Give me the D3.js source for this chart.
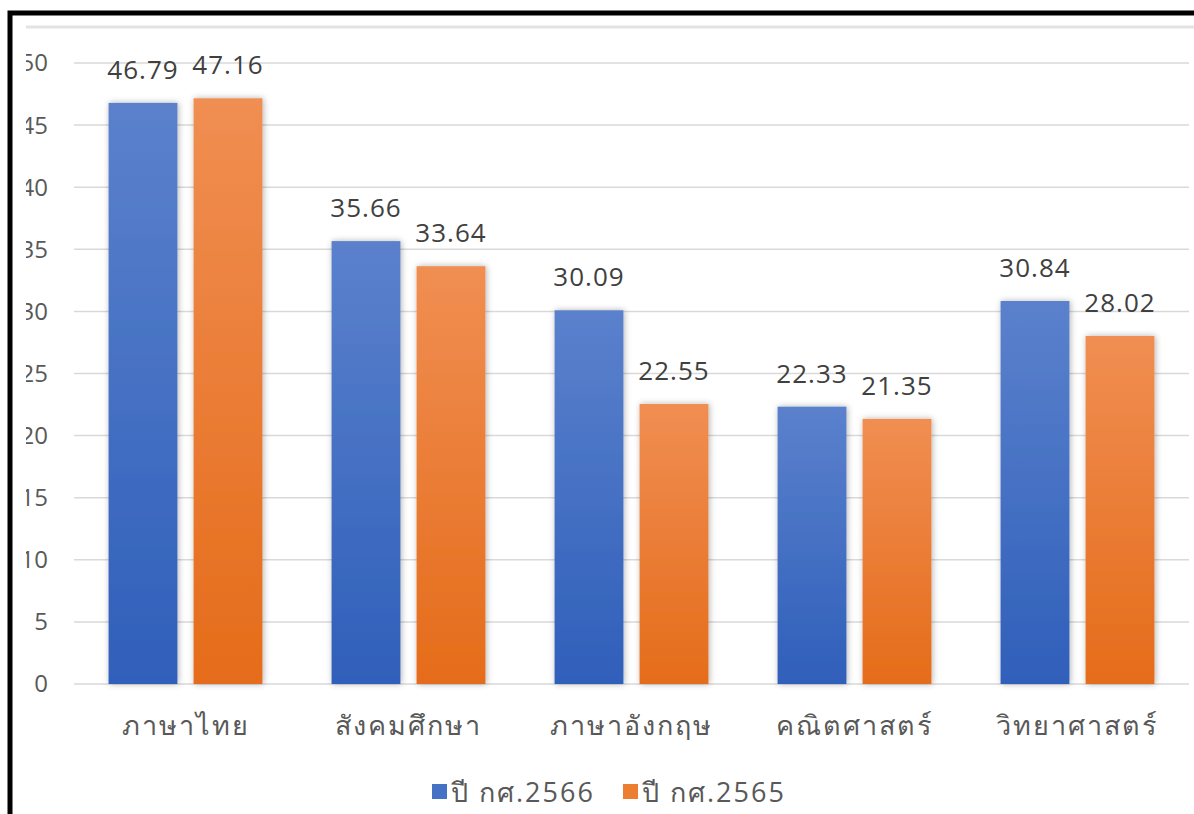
<!DOCTYPE html>
<html>
<head>
<meta charset="utf-8">
<script src="https://cdn.jsdelivr.net/npm/d3@7"></script>
<style>
  html, body { margin: 0; padding: 0; background: #fff; overflow: hidden; }
  svg { display: block; }
</style>
</head>
<body>
<div id="chart"></div>
<script>
// data
const categories = ["ภาษาไทย", "สังคมศึกษา", "ภาษาอังกฤษ", "คณิตศาสตร์", "วิทยาศาสตร์"];
const seriesNames = ["ปี กศ.2566", "ปี กศ.2565"];
const values2566 = [46.79, 35.66, 30.09, 22.33, 30.84];
const values2565 = [47.16, 33.64, 22.55, 21.35, 28.02];
const yTicks = [0, 5, 10, 15, 20, 25, 30, 35, 40, 45, 50];

const width = 1194, height = 814;
const font = "'Open Sans', 'Noto Sans', 'DejaVu Sans', sans-serif";

const svg = d3.select("#chart").append("svg")
    .attr("width", width)
    .attr("height", height);

const defs = svg.append("defs");

// gradients, lighter at the top
const grads = [
    { id: "gBlue", top: "#5b81cc", bottom: "#2f5fba" },
    { id: "gOrange", top: "#f08e52", bottom: "#e56c1a" }
];
grads.forEach(g => {
    const lg = defs.append("linearGradient")
        .attr("id", g.id)
        .attr("x1", 0).attr("y1", 0).attr("x2", 0).attr("y2", 1);
    lg.append("stop").attr("offset", "0%").attr("stop-color", g.top);
    lg.append("stop").attr("offset", "100%").attr("stop-color", g.bottom);
});

const shadow = defs.append("filter").attr("id", "shadow")
    .attr("x", "-20%").attr("y", "-10%").attr("width", "140%").attr("height", "120%");
shadow.append("feDropShadow")
    .attr("dx", 1).attr("dy", 0).attr("stdDeviation", 3)
    .attr("flood-color", "#000").attr("flood-opacity", 0.3);

// the screenshot was cropped on the left, so the tick labels are cut
defs.append("clipPath").attr("id", "crop")
    .append("rect")
    .attr("x", 26).attr("y", 0)
    .attr("width", width).attr("height", height);

const chart = svg.append("g").attr("clip-path", "url(#crop)");

// scales
const plotLeft = 74, plotRight = 1189;
const y = d3.scaleLinear().domain([0, 50]).range([684, 63]);

const x0 = d3.scaleBand()
    .domain(categories)
    .range([plotLeft, plotRight])
    .paddingInner(0.31)
    .paddingOuter(0.155);

const x1 = d3.scaleBand()
    .domain(seriesNames)
    .range([0, x0.bandwidth()])
    .paddingInner(0.19);

const fills = { [seriesNames[0]]: "url(#gBlue)", [seriesNames[1]]: "url(#gOrange)" };
const legendColors = { [seriesNames[0]]: "#4472c4", [seriesNames[1]]: "#ed7d31" };

// faint line near the top
chart.append("line")
    .attr("x1", 20).attr("x2", width)
    .attr("y1", 27).attr("y2", 27)
    .attr("stroke", "#e3e3e3").attr("stroke-width", 3);

// gridlines
chart.append("g").selectAll("line")
    .data(yTicks)
    .join("line")
    .attr("x1", plotLeft).attr("x2", plotRight)
    .attr("y1", d => y(d)).attr("y2", d => y(d))
    .attr("stroke", "#d9d9d9")
    .attr("stroke-width", 1.5);

// y tick labels
chart.append("g").selectAll("text")
    .data(yTicks)
    .join("text")
    .attr("x", 48)
    .attr("y", d => y(d))
    .attr("dy", "0.35em")
    .attr("text-anchor", "end")
    .attr("font-family", font)
    .attr("font-size", 24)
    .attr("fill", "#595959")
    .text(d => d);

// bars
const rows = categories.map((c, i) => ({
    cat: c,
    vals: [
        { series: seriesNames[0], value: values2566[i] },
        { series: seriesNames[1], value: values2565[i] }
    ]
}));

const groups = chart.append("g").selectAll("g")
    .data(rows)
    .join("g")
    .attr("transform", d => `translate(${x0(d.cat)},0)`);

groups.selectAll("rect")
    .data(d => d.vals)
    .join("rect")
    .attr("x", d => x1(d.series))
    .attr("y", d => y(d.value))
    .attr("width", x1.bandwidth())
    .attr("height", d => y(0) - y(d.value))
    .attr("fill", d => fills[d.series])
    .attr("filter", "url(#shadow)");

groups.selectAll("text.val")
    .data(d => d.vals)
    .join("text")
    .attr("class", "val")
    .attr("x", d => x1(d.series) + x1.bandwidth() / 2)
    .attr("y", d => y(d.value) - 24)
    .attr("text-anchor", "middle")
    .attr("font-family", font)
    .attr("font-size", 26)
    .attr("letter-spacing", 1)
    .attr("fill", "#404040")
    .text(d => d.value.toFixed(2));

// category labels
chart.append("g").selectAll("text")
    .data(categories)
    .join("text")
    .attr("x", d => x0(d) + x0.bandwidth() / 2)
    .attr("y", 735)
    .attr("text-anchor", "middle")
    .attr("font-family", font)
    .attr("font-size", 27)
    .attr("letter-spacing", 2)
    .attr("fill", "#595959")
    .text(d => d);

// legend
const legendX = [432, 623];
const legend = chart.append("g").selectAll("g")
    .data(seriesNames)
    .join("g")
    .attr("transform", (d, i) => `translate(${legendX[i]},784)`);
legend.append("rect")
    .attr("width", 15).attr("height", 15)
    .attr("fill", d => legendColors[d]);
legend.append("text")
    .attr("x", 19)
    .attr("y", 18)
    .attr("font-family", font)
    .attr("font-size", 27)
    .attr("letter-spacing", 2)
    .attr("fill", "#595959")
    .text(d => d);

// black frame round the chart
svg.append("rect")
    .attr("x", 10).attr("y", 13)
    .attr("width", width + 20).attr("height", height + 20)
    .attr("fill", "none")
    .attr("stroke", "#000")
    .attr("stroke-width", 5);
</script>
</body>
</html>
